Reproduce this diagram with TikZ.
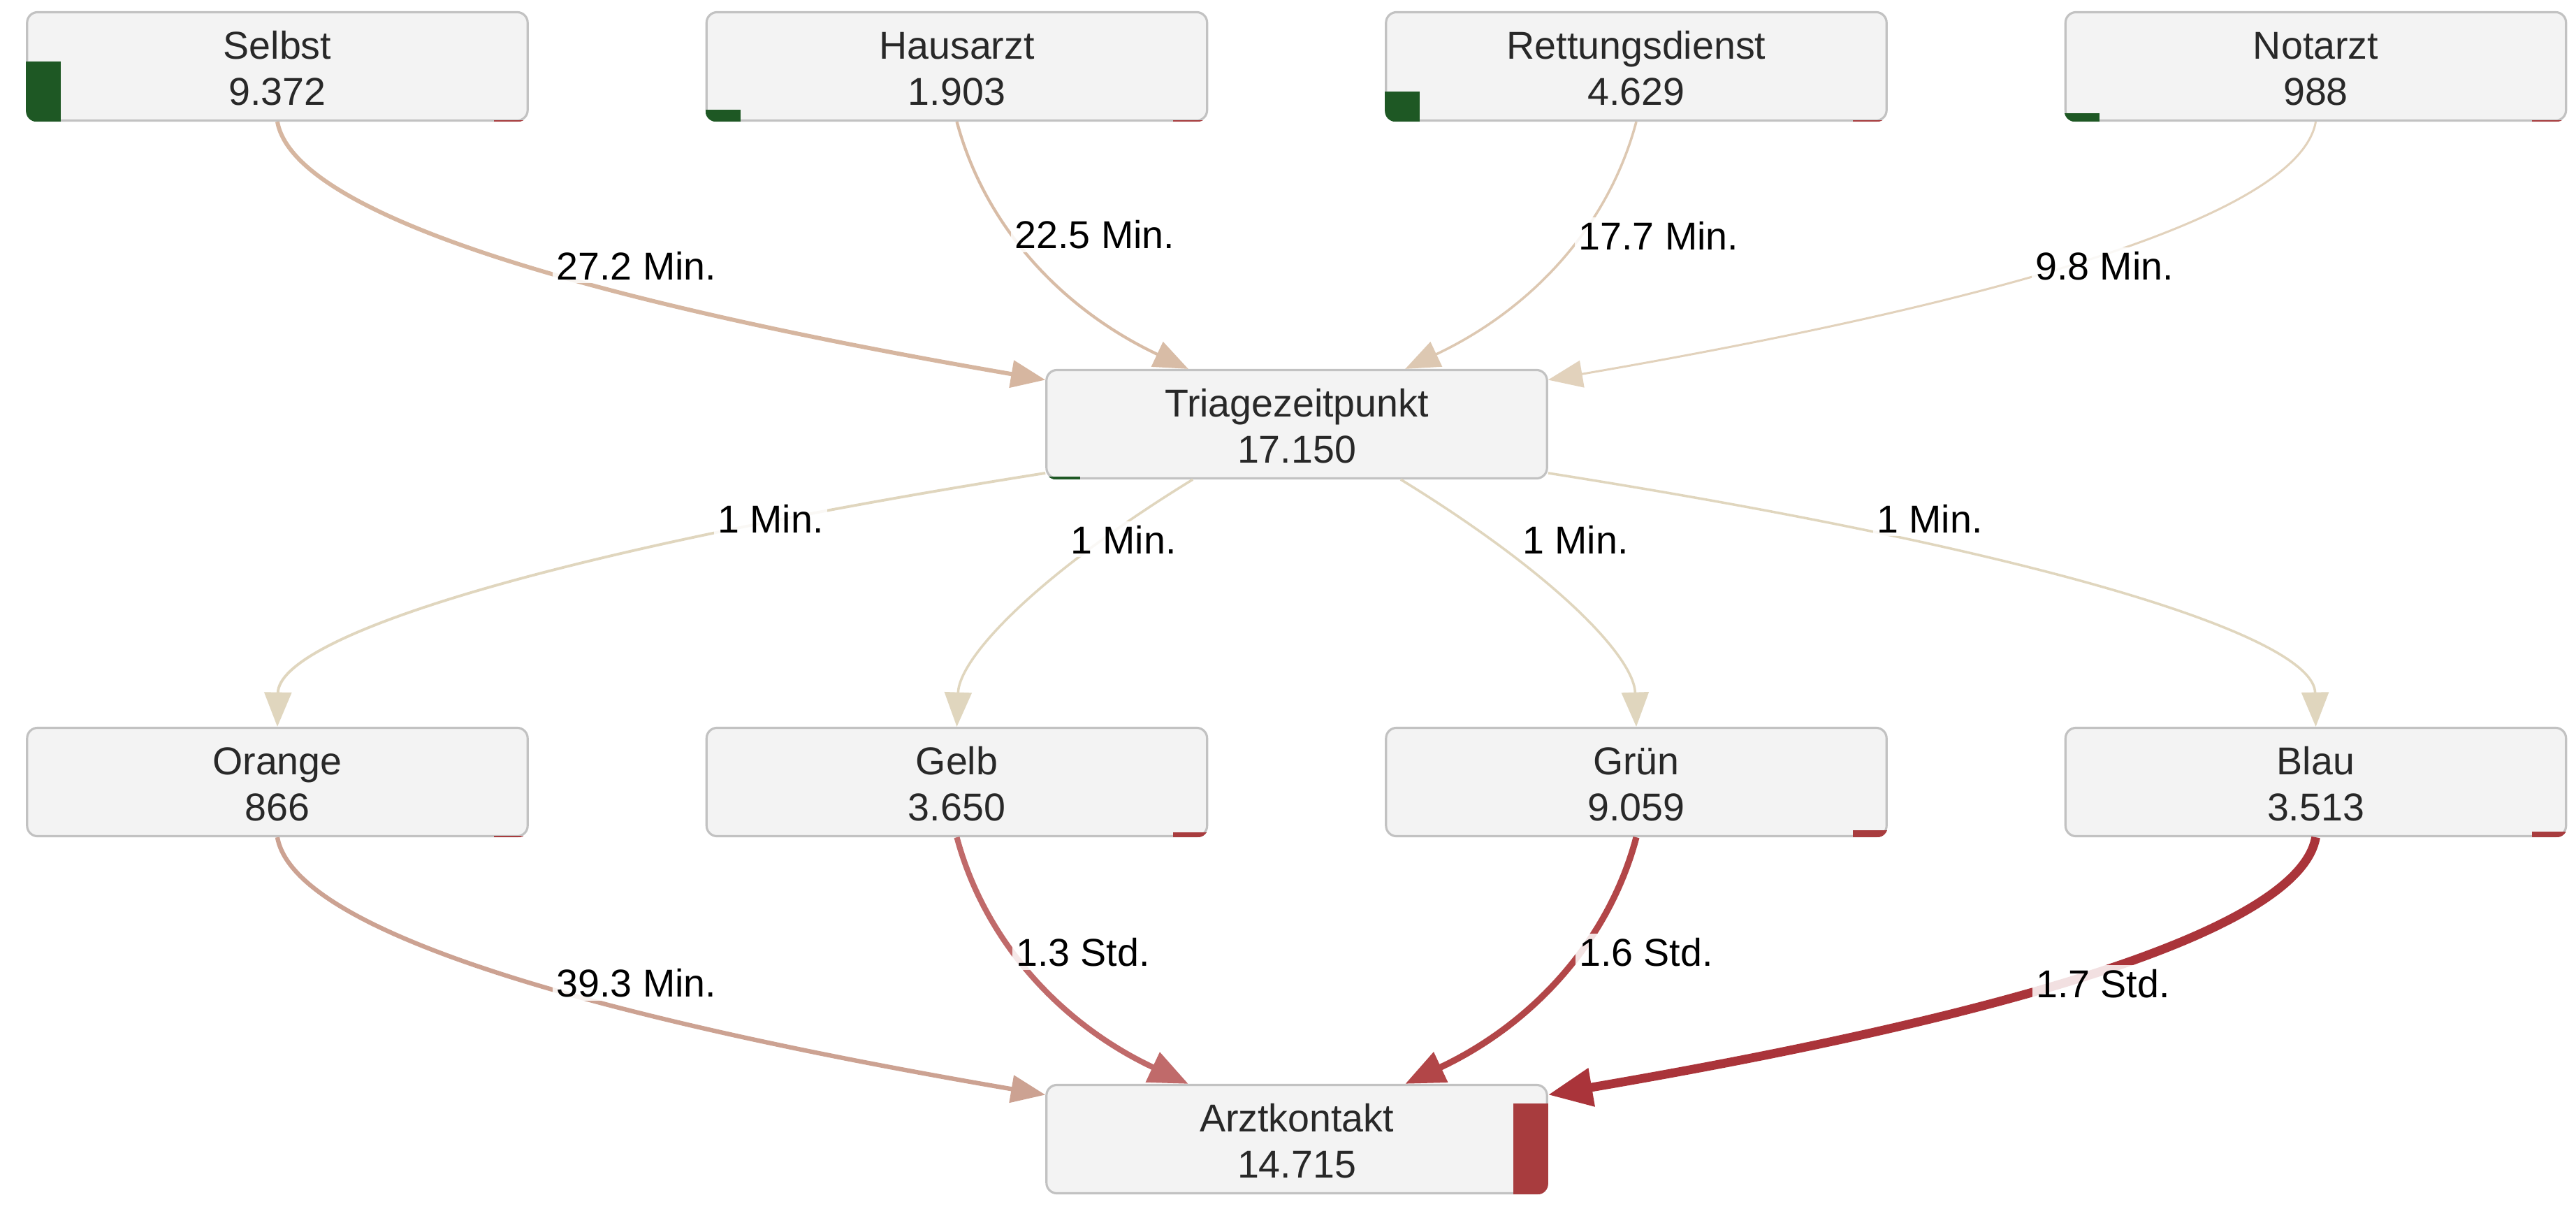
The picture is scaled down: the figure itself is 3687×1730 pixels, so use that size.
\documentclass[tikz,border=0pt]{standalone}
\usepackage{fontspec}
\setmainfont{Liberation Sans}
\usetikzlibrary{calc,arrows.meta}

\definecolor{boxfill}{RGB}{243,243,243}
\definecolor{boxline}{RGB}{194,194,194}
\definecolor{txt}{RGB}{40,40,40}
\definecolor{barred}{RGB}{168,60,62}
\definecolor{bargreen}{RGB}{30,88,36}
% connector colours
\definecolor{cSelbst}{RGB}{214,182,160}
\definecolor{cHaus}{RGB}{216,188,166}
\definecolor{cRett}{RGB}{221,200,178}
\definecolor{cNot}{RGB}{226,210,188}
\definecolor{cTri}{RGB}{224,214,190}
\definecolor{cOrange}{RGB}{204,162,146}
\definecolor{cGelb}{RGB}{192,106,106}
\definecolor{cGruen}{RGB}{178,70,72}
\definecolor{cBlau}{RGB}{170,52,58}

\tikzset{
  box/.style={draw=boxline, line width=0.9pt, fill=boxfill, rounded corners=0.15cm,
    minimum width=7.16cm, minimum height=1.55cm, inner sep=0pt},
  ttl/.style={font=\fontsize{15.8}{19}\selectfont, text=txt, inner sep=0pt, anchor=base},
  elabel/.style={font=\fontsize{15.8}{19}\selectfont, text=black, fill=white,
    fill opacity=0.85, text opacity=1, inner sep=1.5pt, anchor=base},
  flow/.style={-{Triangle[length=14pt,width=11pt]}},
  bigflow/.style={-{Triangle[length=16pt,width=13pt]}},
  hugeflow/.style={-{Triangle[length=18pt,width=15pt]}},
}

% box with its title and count
\newcommand\stagebox[3]{\node[box] (#1) at (#2,#3) {};}
\newcommand\stagetext[3]{%
  \node[ttl] (#1-title) at ($(#1.center)+(0,-11)$) {#2};
  \node[ttl] (#1-count) at ($(#1.center)+(0,55)$) {#3};}
% share bars in the lower corners, clipped to the rounded box
\newcommand\greenbar[2]{%
  \begin{scope}
    \clip[rounded corners=0.15cm] (#1.south west) rectangle (#1.north east);
    \fill[bargreen] (#1.south west) rectangle +(50,-#2);
  \end{scope}}
\newcommand\redbar[2]{%
  \begin{scope}
    \clip[rounded corners=0.15cm] (#1.south west) rectangle (#1.north east);
    \fill[barred] (#1.south east) rectangle +(-50,-#2);
  \end{scope}}
% curved connector through one guide point
\newcommand\qedge[4]{%
  \draw[#1] (#2) .. controls ($(#2)!0.6667!(#3)$) and ($(#4)!0.6667!(#3)$) .. (#4);}

\begin{document}
\begin{tikzpicture}[x=0.01cm,y=-0.01cm]
\fill[white] (0,0) rectangle (3687,1730);
\useasboundingbox (0,0) rectangle (3687,1730);

% boxes
\stagebox{selbst}{397}{95}
\stagebox{hausarzt}{1369.5}{95}
\stagebox{rettung}{2342}{95}
\stagebox{notarzt}{3314.5}{95}
\stagebox{triage}{1856}{607}
\stagebox{orange}{397}{1119}
\stagebox{gelb}{1369.5}{1119}
\stagebox{gruen}{2342}{1119}
\stagebox{blau}{3314.5}{1119}
\stagebox{arzt}{1856}{1630}

% share bars
\greenbar{selbst}{86}   \redbar{selbst}{2}
\greenbar{hausarzt}{17} \redbar{hausarzt}{2}
\greenbar{rettung}{43}  \redbar{rettung}{2}
\greenbar{notarzt}{12}  \redbar{notarzt}{2}
\greenbar{triage}{4}
\redbar{orange}{2}
\redbar{gelb}{7}
\redbar{gruen}{10}
\redbar{blau}{8}
\redbar{arzt}{130}

% texts
\stagetext{selbst}{Selbst}{9.372}
\stagetext{hausarzt}{Hausarzt}{1.903}
\stagetext{rettung}{Rettungsdienst}{4.629}
\stagetext{notarzt}{Notarzt}{988}
\stagetext{triage}{Triagezeitpunkt}{17.150}
\stagetext{orange}{Orange}{866}
\stagetext{gelb}{Gelb}{3.650}
\stagetext{gruen}{Grün}{9.059}
\stagetext{blau}{Blau}{3.513}
\stagetext{arzt}{Arztkontakt}{14.715}

% arrival -> triage
\qedge{flow, draw=cSelbst, line width=1.7pt}{selbst.south}{430,360}{triage.170}
\qedge{flow, draw=cHaus, line width=1.2pt}{hausarzt.south}{1430,400}{triage.153}
\qedge{flow, draw=cRett, line width=1.0pt}{rettung.south}{2282,400}{triage.27}
\qedge{flow, draw=cNot, line width=0.85pt}{notarzt.south}{3282,360}{triage.10}
% triage -> category
\qedge{flow, draw=cTri, line width=1.1pt}{triage.191}{400,850}{orange.north}
\qedge{flow, draw=cTri, line width=1.0pt}{triage.208}{1375,890}{gelb.north}
\qedge{flow, draw=cTri, line width=1.0pt}{triage.332}{2337,890}{gruen.north}
\qedge{flow, draw=cTri, line width=1.0pt}{triage.349}{3311,850}{blau.north}
% category -> doctor contact
\qedge{flow, draw=cOrange, line width=1.8pt}{orange.south}{430,1384}{arzt.170}
\qedge{bigflow, draw=cGelb, line width=2.3pt}{gelb.south}{1430,1424}{arzt.153}
\qedge{bigflow, draw=cGruen, line width=2.6pt}{gruen.south}{2282,1424}{arzt.27}
\qedge{hugeflow, draw=cBlau, line width=3.6pt}{blau.south}{3282,1384}{arzt.10}

% connector labels
\node[elabel] (l-selbst) at (911,400) {27.2 Min.};
\node[elabel] (l-haus) at (1567,355) {22.5 Min.};
\node[elabel] (l-rett) at (2374,357) {17.7 Min.};
\node[elabel] (l-not) at (3012,400) {9.8 Min.};
\node[elabel] (l-orange) at (1103,762) {1 Min.};
\node[elabel] (l-gelb) at (1608,792) {1 Min.};
\node[elabel] (l-gruen) at (2255,792) {1 Min.};
\node[elabel] (l-blau) at (2762,762) {1 Min.};
\node[elabel] (l-oa) at (911,1426) {39.3 Min.};
\node[elabel] (l-ga) at (1550,1382) {1.3 Std.};
\node[elabel] (l-gra) at (2356,1382) {1.6 Std.};
\node[elabel] (l-ba) at (3010,1427) {1.7 Std.};
\end{tikzpicture}
\end{document}
